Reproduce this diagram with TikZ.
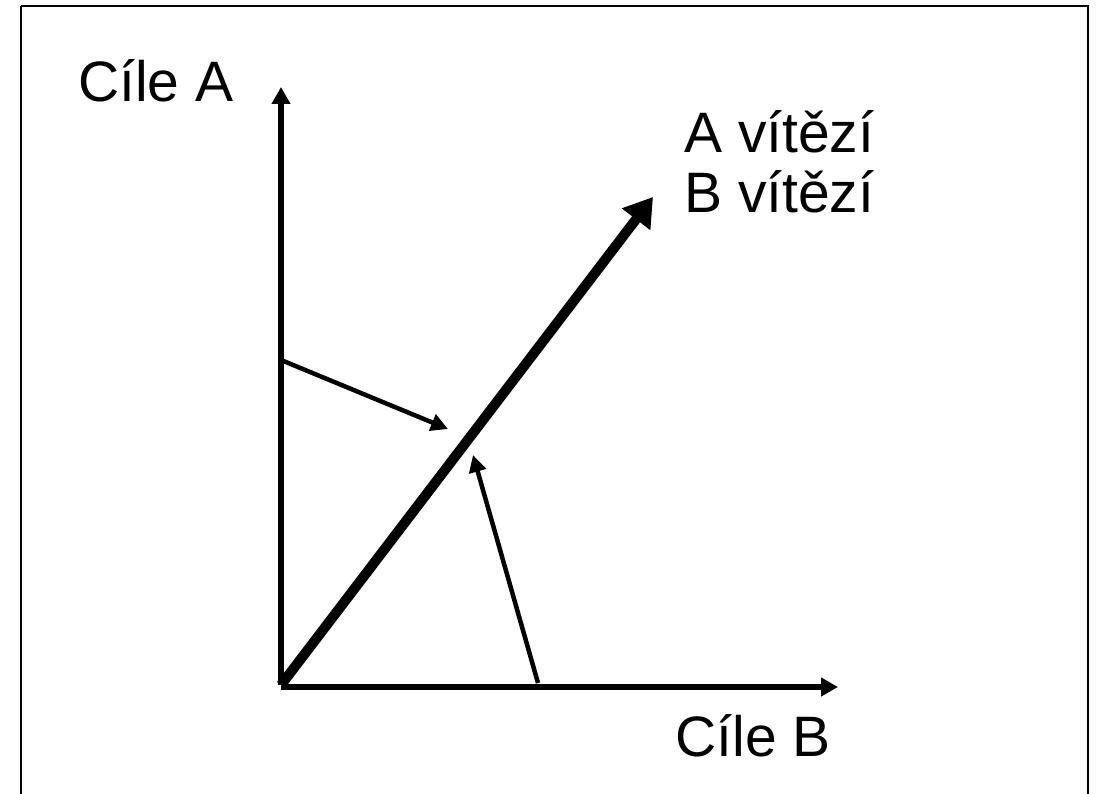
\documentclass[tikz,border=0pt]{standalone}
\usepackage{fontspec}
\setmainfont{Liberation Sans}
\usetikzlibrary{arrows.meta}

\begin{document}
\begin{tikzpicture}[x=1pt,y=-1pt,
    lbl/.style={font=\fontsize{57}{60}\selectfont,inner sep=0pt},
    axis/.style={line width=5.5pt,-{Triangle[length=17pt,width=18pt]}},
    thin/.style={line width=4.5pt,-{Triangle[length=17pt,width=17pt]}},
    main/.style={line width=10pt,-{Triangle[length=28pt,width=34pt]}}]
  \useasboundingbox (0,0) rectangle (1097,794);
  \draw[line width=2pt] (21,6) -- (1088,6) -- (1088,820) (21,6) -- (21,820);
  % axes
  \coordinate (O) at (281,685);
  \coordinate (ytip) at (281,87);
  \coordinate (xtip) at (838,687);
  \draw[axis] (O) -- (ytip);
  \draw[axis] (O |- xtip) -- (xtip);
  \node[lbl,anchor=base west] (cilA) at (78,102) {Cíle A};
  \node[lbl,anchor=base east] (cilB) at (831,756) {Cíle B};
  % the common direction
  \coordinate (win) at (653,197);
  \draw[main] (O) -- (win);
  \node[lbl,anchor=base west] (vitA) at (684,153) {A vítězí};
  \node[lbl,anchor=base west] (vitB) at (684,213) {B vítězí};
  % pulls towards the diagonal
  \coordinate (fromA) at (281,360);
  \coordinate (toA) at (448,429);
  \coordinate (fromB) at (538,683);
  \coordinate (toB) at (473,455);
  \draw[thin] (fromA) -- (toA);
  \draw[thin] (fromB) -- (toB);
\end{tikzpicture}
\end{document}
